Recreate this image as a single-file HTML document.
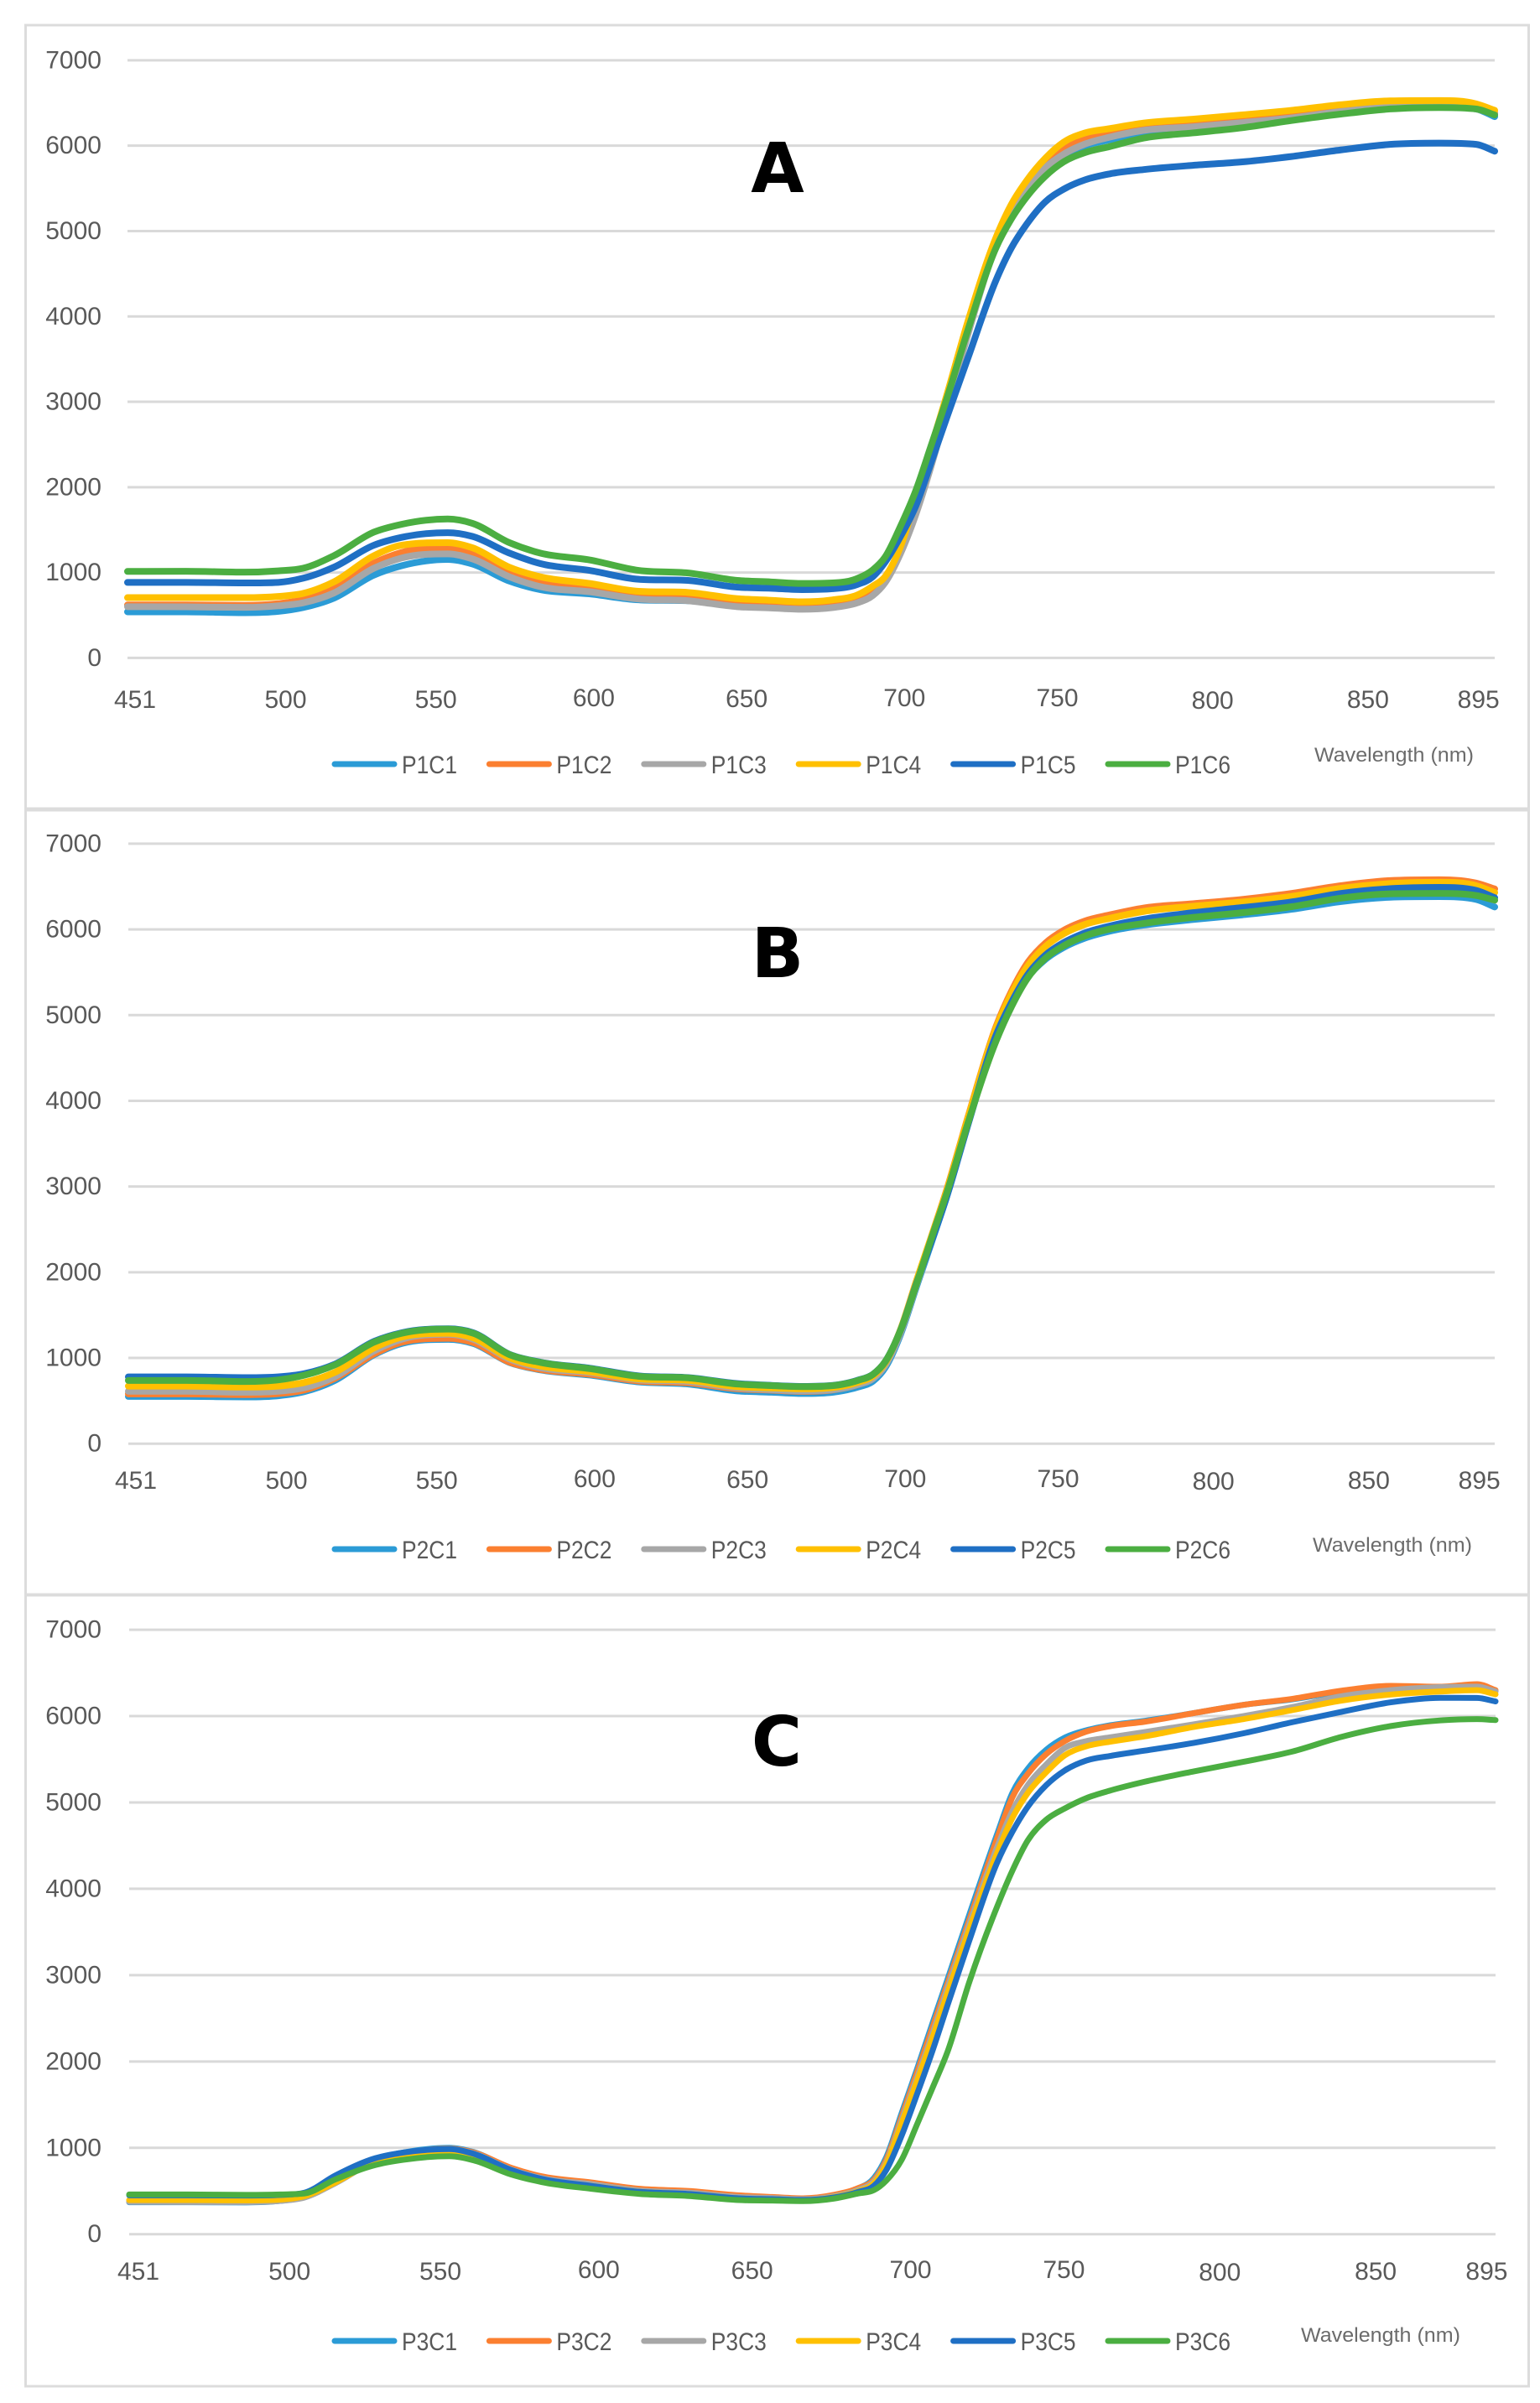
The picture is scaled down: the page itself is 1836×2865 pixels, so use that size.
<!DOCTYPE html>
<html lang="en">
<head>
<meta charset="utf-8">
<title>Reflectance spectra panels A, B and C</title>
<style>
  html, body { margin: 0; padding: 0; background: #ffffff; }
  #figure { display: block; width: 1836px; height: 2865px; }
  text { font-family: "Liberation Sans", sans-serif; fill: #595959; }
</style>
</head>
<body>
<svg id="figure" xmlns="http://www.w3.org/2000/svg" width="1836" height="2865" viewBox="0 0 1836 2865"></svg>
<script>
const wavelengths = [451,470,489,500,508,518,531,540,555,563, 575,585,601,617,633,649,660,670,680,688, 693,697,702,707,712,717,724,733,738,743, 749,755,762,770,781,797,813,829,845,861, 877,889,895];
const yTickValues = [0,1000,2000,3000,4000,5000,6000,7000];
const xTickLabels = [451,500,550,600,650,700,750,800,850,895];

const p1c1 = [540,540,530,545,590,700,970,1080,1153,1100, 900,800,750,680,670,610,600,590,610,665, 760,900,1230,1720,2320,2950,3850,4820,5190,5470, 5720,5880,6000,6070,6150,6200,6260,6320,6395,6450, 6460,6430,6340];
const p1c2 = [620,620,615,635,680,810,1110,1235,1291,1230, 1000,890,820,730,710,640,620,605,625,685, 770,920,1270,1800,2400,3020,3890,4880,5260,5530, 5790,5960,6080,6140,6210,6260,6315,6370,6445,6495, 6500,6460,6385];
const p1c3 = [600,598,592,610,645,760,1050,1170,1219,1160, 950,835,775,690,670,600,585,570,590,645, 730,880,1220,1680,2250,2890,3800,4820,5200,5490, 5740,5900,6020,6100,6180,6220,6270,6325,6400,6450, 6460,6430,6370];
const p1c4 = [706,706,706,720,755,890,1197,1320,1350,1290, 1062,951,872,780,767,694,675,657,680,737, 840,950,1300,1870,2470,3070,3950,4920,5310,5590, 5850,6040,6150,6200,6265,6310,6360,6414,6480,6525, 6529,6490,6414];
const p1c5 = [884,885,878,885,933,1062,1320,1412,1467,1424, 1228,1105,1025,921,908,829,816,800,810,860, 950,1120,1420,1780,2290,2810,3520,4420,4800,5080, 5340,5490,5600,5670,5720,5770,5810,5873,5950,6015, 6030,6015,5936];
const p1c6 = [1013,1015,1005,1020,1050,1197,1473,1565,1627,1577, 1350,1228,1148,1025,995,908,890,872,878,930, 1030,1180,1540,1960,2490,3030,3850,4800,5140,5400, 5640,5810,5920,5990,6090,6150,6210,6295,6370,6430, 6447,6430,6360];

const p2c1 = [551,551,545,560,605,735,1040,1170,1217,1170, 945,860,800,720,695,615,600,585,600,660, 730,890,1280,1820,2350,2890,3750,4770,5140,5430, 5650,5790,5900,5980,6050,6115,6170,6235,6325,6375, 6382,6350,6262];
const p2c2 = [581,581,572,585,625,760,1050,1185,1229,1180, 950,865,810,730,710,640,625,610,628,690, 770,930,1330,1880,2420,2970,3830,4870,5280,5600, 5840,5990,6100,6170,6250,6300,6350,6420,6510,6570, 6580,6540,6472];
const p2c3 = [611,611,600,612,650,780,1085,1220,1277,1220, 985,885,830,745,725,650,630,615,630,690, 760,915,1300,1840,2370,2910,3770,4790,5170,5470, 5700,5850,5950,6030,6100,6160,6210,6280,6370,6425, 6440,6410,6340];
const p2c4 = [671,671,660,672,712,830,1120,1245,1288,1235, 1000,905,840,755,740,665,650,640,655,715, 790,945,1340,1890,2420,2960,3820,4850,5250,5560, 5800,5950,6060,6130,6210,6270,6320,6385,6480,6535, 6550,6510,6430];
const p2c5 = [779,779,770,780,815,925,1195,1295,1340,1295, 1040,950,880,790,770,700,680,668,680,740, 810,960,1330,1860,2360,2890,3740,4770,5150,5460, 5700,5845,5960,6040,6120,6195,6255,6320,6420,6475, 6490,6455,6370];
const p2c6 = [737,737,725,745,797,917,1187,1289,1336,1289, 1037,947,875,785,767,695,677,665,677,737, 809,960,1330,1850,2400,2930,3760,4700,5100,5420, 5664,5810,5925,6005,6070,6140,6195,6265,6365,6415, 6420,6395,6342];

const p3c1 = [370,370,368,385,430,610,870,945,1000,950, 760,650,575,505,480,430,420,405,445,530, 650,890,1400,1910,2440,2960,3700,4630,5110,5390, 5610,5750,5835,5895,5945,6035,6130,6195,6285,6340, 6330,6345,6290];
const p3c2 = [378,375,375,390,430,600,860,935,990,945, 770,670,600,525,500,450,430,415,455,535, 630,860,1360,1870,2390,2910,3640,4580,5060,5330, 5560,5710,5820,5885,5935,6035,6130,6200,6295,6350, 6340,6370,6301];
const p3c3 = [375,372,372,385,425,590,845,925,985,935, 750,650,580,505,480,430,418,405,440,515, 610,830,1320,1810,2320,2860,3590,4480,4900,5200, 5440,5630,5710,5755,5815,5905,6000,6105,6230,6300, 6335,6340,6285];
const p3c4 = [395,395,392,400,440,600,840,915,960,905, 730,630,560,490,465,415,405,395,430,500, 590,810,1280,1770,2270,2800,3530,4410,4820,5110, 5350,5545,5650,5705,5765,5875,5965,6070,6180,6250, 6285,6300,6252];
const p3c5 = [450,450,448,455,480,680,880,945,985,930, 745,640,560,490,465,415,405,395,425,490, 560,740,1140,1620,2120,2660,3400,4300,4660,4950, 5200,5370,5485,5540,5600,5690,5800,5930,6050,6160, 6212,6210,6170];
const p3c6 = [460,460,455,460,472,634,801,861,903,855, 693,604,526,466,442,395,389,383,412,472, 510,620,860,1270,1690,2120,2920,3790,4210,4560, 4800,4930,5050,5140,5240,5360,5470,5590,5760,5885, 5950,5965,5954];

const seriesNamesA = ['P1C1','P1C2','P1C3','P1C4','P1C5','P1C6'];
const seriesNamesB = ['P2C1','P2C2','P2C3','P2C4','P2C5','P2C6'];
const seriesNamesC = ['P3C1','P3C2','P3C3','P3C4','P3C5','P3C6'];

const seriesValuesA = [p1c1,p1c2,p1c3,p1c4,p1c5,p1c6];
const seriesValuesB = [p2c1,p2c2,p2c3,p2c4,p2c5,p2c6];
const seriesValuesC = [p3c1,p3c2,p3c3,p3c4,p3c5,p3c6];

/* ---- layout and styling (separate from the data above) ---- */
const SERIES_COLORS = ['#2b9bd6','#fb7f30','#a7a7a7','#ffc000','#1f6fc4','#4bae41'];
const TICK_NUDGE_X = [0,-1,-6,-2,-4,0,-2,-1,0,-34];
const TICK_NUDGE_Y = [0,0,0,-2,-1,-2,-2,1,0,0];

const PANELS = [
  { id:'a', letter:'A', names:seriesNamesA, values:seriesValuesA, boxTop:30, boxBottom:964,
    left:152, right:1782, yZero:784.4, yTop:71.9, lineWidth:8,
    tickX0:161, tickK:3.684, tickY:844, legendY:911, axisX:1662, axisY:908,
    letterX:927, letterY:229 },
  { id:'b', letter:'B', names:seriesNamesB, values:seriesValuesB, boxTop:966, boxBottom:1901,
    left:153, right:1782, yZero:1721.2, yTop:1005.9, lineWidth:8,
    tickX0:162, tickK:3.684, tickY:1775, legendY:1847, axisX:1660, axisY:1850,
    letterX:927, letterY:1165 },
  { id:'c', letter:'C', names:seriesNamesC, values:seriesValuesC, boxTop:1902, boxBottom:2845,
    left:154, right:1783, yZero:2663.7, yTop:1943.1, lineWidth:7,
    tickX0:165, tickK:3.697, tickY:2718, legendY:2791, axisX:1646, axisY:2792,
    letterX:926, letterY:2105 }
];

const LEGEND_X0 = 396;
const LEGEND_STEP = 184.4;
const SVG_NS = 'http://www.w3.org/2000/svg';
const svg = document.getElementById('figure');

function make(tag, attrs, parent) {
  const node = document.createElementNS(SVG_NS, tag);
  for (const k in attrs) node.setAttribute(k, attrs[k]);
  parent.appendChild(node);
  return node;
}

/* Smooth cubic path through the points, with interval-weighted, overshoot-limited tangents */
function smoothPath(xs, ys) {
  const n = xs.length;
  const dx = [], slope = [], tan = new Array(n);
  for (let i = 0; i < n - 1; i++) {
    dx[i] = xs[i + 1] - xs[i];
    slope[i] = (ys[i + 1] - ys[i]) / dx[i];
  }
  tan[0] = slope[0];
  tan[n - 1] = slope[n - 2];
  for (let i = 1; i < n - 1; i++) {
    const s0 = slope[i - 1], s1 = slope[i];
    if (s0 * s1 <= 0) { tan[i] = 0; continue; }
    const p = (s0 * dx[i] + s1 * dx[i - 1]) / (dx[i] + dx[i - 1]);
    const limit = 3 * Math.min(Math.abs(s0), Math.abs(s1));
    tan[i] = Math.sign(p) * Math.min(Math.abs(p), limit);
  }
  let d = 'M' + xs[0].toFixed(2) + ' ' + ys[0].toFixed(2);
  for (let i = 0; i < n - 1; i++) {
    const h = dx[i] / 3;
    d += 'C' + (xs[i] + h).toFixed(2) + ' ' + (ys[i] + tan[i] * h).toFixed(2) + ' ' +
         (xs[i + 1] - h).toFixed(2) + ' ' + (ys[i + 1] - tan[i + 1] * h).toFixed(2) + ' ' +
         xs[i + 1].toFixed(2) + ' ' + ys[i + 1].toFixed(2);
  }
  return d;
}

PANELS.forEach(function (p) {
  const xScale = function (w) {
    return p.left + (w - wavelengths[0]) / (wavelengths[wavelengths.length - 1] - wavelengths[0]) * (p.right - p.left);
  };
  const yScale = function (v) {
    return p.yZero + v / yTickValues[yTickValues.length - 1] * (p.yTop - p.yZero);
  };

  const group = make('g', {}, svg);
  
  

  const frame = make('rect', { x:30.5, y:p.boxTop, width:1792, height:p.boxBottom - p.boxTop, fill:'#ffffff', stroke:'#dcdcdc', 'stroke-width':3 }, group);
  
  

  yTickValues.forEach(function (v) {
    const line = make('line', { x1:p.left, x2:p.right, y1:yScale(v), y2:yScale(v), stroke:'#d9d9d9', 'stroke-width':3 }, group);
    
    

    const label = make('text', { x:121, y:yScale(v) + 9.5, 'text-anchor':'end', 'font-size':30 }, group);
    label.textContent = String(v);
    
    
  });

  xTickLabels.forEach(function (w, i) {
    const tx = p.tickX0 + (w - xTickLabels[0]) * p.tickK + TICK_NUDGE_X[i];
    const label = make('text', { x:tx, y:p.tickY + TICK_NUDGE_Y[i], 'text-anchor':'middle', 'font-size':30 }, group);
    label.textContent = String(w);
    
    
  });

  const xs = wavelengths.map(xScale);
  p.values.forEach(function (vals, s) {
    const path = make('path', { d:smoothPath(xs, vals.map(yScale)), fill:'none', stroke:SERIES_COLORS[s], 'stroke-width':p.lineWidth, 'stroke-linejoin':'round', 'stroke-linecap':'round' }, group);
    
    
  });

  p.names.forEach(function (name, s) {
    const lx = LEGEND_X0 + s * LEGEND_STEP;
    const entry = make('g', {}, group);
    
    
    const swatch = make('line', { x1:lx + 3, x2:lx + 74, y1:p.legendY, y2:p.legendY, stroke:SERIES_COLORS[s], 'stroke-width':7, 'stroke-linecap':'round' }, entry);
    
    
    const text = make('text', { x:lx + 83, y:p.legendY + 11, 'font-size':30, textLength:66, lengthAdjust:'spacingAndGlyphs' }, entry);
    text.textContent = name;
    
    
  });

  const axisTitle = make('text', { x:p.axisX, y:p.axisY, 'text-anchor':'middle', 'font-size':24, textLength:190, lengthAdjust:'spacingAndGlyphs', style:'fill:#6b6b6b' }, group);
  axisTitle.textContent = 'Wavelength (nm)';
  
  

  const letter = make('text', { x:p.letterX, y:p.letterY, 'text-anchor':'middle', 'font-size':82, 'font-weight':700, style:'font-family:"DejaVu Sans",sans-serif;fill:#000000' }, group);
  letter.textContent = p.letter;
  
  
});
</script>
</body>
</html>
